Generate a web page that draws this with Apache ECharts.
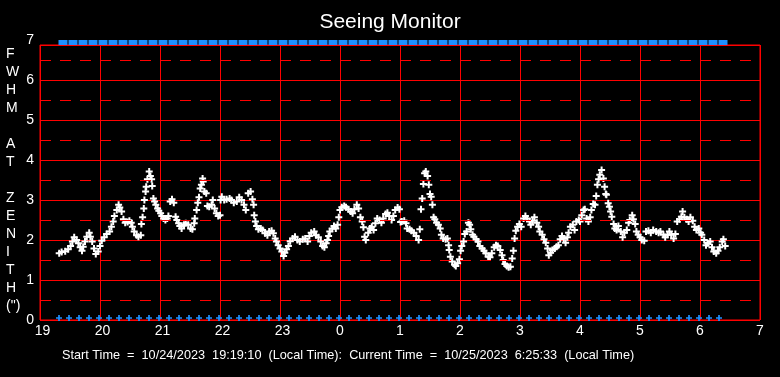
<!DOCTYPE html>
<html>
<head>
<meta charset="utf-8">
<title>Seeing Monitor</title>
<script src="https://cdn.jsdelivr.net/npm/echarts@6/dist/echarts.min.js"></script>
<style>
    html, body { margin: 0; padding: 0; background: #000; }
    #chart { width: 780px; height: 377px; }
</style>
</head>
<body>
<div id="chart"></div>
<script>
// hour axis runs 19 -> 31 (next morning 7:00)
var hourTicks = [19, 20, 21, 22, 23, 24, 25, 26, 27, 28, 29, 30, 31];
var fwhmTicks = [0, 1, 2, 3, 4, 5, 6, 7];
var dashLevels = [0.5, 1.5, 2.5, 3.5, 4.5, 5.5, 6.5];

// seeing samples [hour, FWHM arcsec]
var seeingPoints = [
    [19.32, 1.67], [19.36, 1.70], [19.42, 1.72], [19.47, 1.77], [19.51, 1.85], [19.54, 1.96], [19.57, 2.07],
    [19.61, 2.00], [19.64, 1.92], [19.67, 1.82], [19.70, 1.73], [19.72, 1.83], [19.75, 1.96], [19.78, 2.08],
    [19.82, 2.18], [19.84, 2.08], [19.87, 1.96], [19.90, 1.79], [19.93, 1.65], [19.97, 1.71], [20.00, 1.85],
    [20.03, 1.98], [20.07, 2.07], [20.11, 2.15], [20.16, 2.21], [20.19, 2.33], [20.22, 2.46], [20.24, 2.60],
    [20.28, 2.75], [20.31, 2.88], [20.33, 2.81], [20.36, 2.71], [20.39, 2.52], [20.42, 2.43], [20.46, 2.45],
    [20.49, 2.48], [20.52, 2.43], [20.54, 2.33], [20.57, 2.21], [20.61, 2.12], [20.64, 2.08], [20.68, 2.12],
    [20.69, 2.40], [20.71, 2.57], [20.73, 2.79], [20.74, 3.00], [20.76, 3.21], [20.77, 3.33], [20.79, 3.52],
    [20.82, 3.71], [20.84, 3.60], [20.86, 3.52], [20.87, 3.35], [20.89, 3.04], [20.91, 2.96], [20.93, 2.88],
    [20.96, 2.79], [20.98, 2.73], [21.01, 2.67], [21.03, 2.60], [21.06, 2.54], [21.09, 2.50], [21.12, 2.54],
    [21.14, 2.60], [21.17, 2.96], [21.20, 3.02], [21.23, 2.93], [21.26, 2.58], [21.28, 2.50], [21.31, 2.42],
    [21.33, 2.35], [21.36, 2.29], [21.40, 2.38], [21.43, 2.42], [21.47, 2.38], [21.51, 2.29], [21.54, 2.27],
    [21.57, 2.42], [21.58, 2.54], [21.61, 2.75], [21.63, 2.93], [21.65, 3.07], [21.67, 3.29], [21.69, 3.38],
    [21.71, 3.54], [21.72, 3.46], [21.74, 3.21], [21.77, 3.17], [21.79, 2.85], [21.82, 2.83], [21.86, 2.88],
    [21.88, 3.00], [21.91, 2.79], [21.94, 2.67], [21.97, 2.60], [22.00, 2.62],
    [22.01, 3.00], [22.03, 3.08], [22.07, 3.00], [22.11, 3.02], [22.16, 3.04], [22.19, 3.00], [22.23, 2.93],
    [22.28, 2.96], [22.32, 3.07], [22.36, 3.00], [22.40, 2.88], [22.43, 2.75], [22.47, 3.17], [22.51, 3.21],
    [22.54, 3.02], [22.56, 2.88], [22.57, 2.62], [22.59, 2.46], [22.61, 2.35], [22.64, 2.27], [22.68, 2.29],
    [22.71, 2.25], [22.75, 2.17], [22.79, 2.12], [22.82, 2.21], [22.86, 2.23], [22.89, 2.17], [22.92, 2.04],
    [22.94, 1.96], [22.97, 1.87], [23.00, 1.79], [23.03, 1.71], [23.06, 1.60], [23.08, 1.68], [23.11, 1.77],
    [23.14, 1.85], [23.17, 1.97], [23.21, 2.04], [23.25, 2.08], [23.29, 2.00], [23.33, 1.96], [23.38, 2.02],
    [23.42, 2.04], [23.46, 1.96], [23.49, 2.10], [23.52, 2.18], [23.57, 2.21], [23.60, 2.12], [23.64, 2.07],
    [23.68, 1.96], [23.71, 1.85], [23.74, 1.82], [23.77, 1.92], [23.79, 2.00], [23.81, 2.10], [23.83, 2.21],
    [23.87, 2.29], [23.90, 2.35], [23.93, 2.29], [23.96, 2.38], [23.98, 2.57], [24.00, 2.75], [24.03, 2.82],
    [24.07, 2.85], [24.10, 2.82], [24.14, 2.77], [24.18, 2.71], [24.21, 2.67], [24.24, 2.77], [24.28, 2.88],
    [24.31, 2.79], [24.34, 2.57], [24.37, 2.46], [24.39, 2.32], [24.41, 2.08], [24.43, 2.00], [24.47, 2.18],
    [24.50, 2.29], [24.53, 2.33], [24.56, 2.25], [24.59, 2.42], [24.62, 2.54], [24.66, 2.50], [24.69, 2.43],
    [24.72, 2.54], [24.76, 2.65], [24.79, 2.68], [24.82, 2.60], [24.86, 2.50], [24.89, 2.60], [24.92, 2.75],
    [24.96, 2.81], [24.99, 2.77],
    [25.01, 2.45], [25.03, 2.46], [25.07, 2.48], [25.10, 2.42], [25.12, 2.29], [25.16, 2.27], [25.19, 2.23],
    [25.23, 2.18], [25.27, 2.10], [25.31, 2.00], [25.33, 2.27], [25.35, 2.77], [25.37, 3.04], [25.39, 3.40],
    [25.41, 3.67], [25.43, 3.71], [25.46, 3.60], [25.48, 3.38], [25.50, 3.15], [25.52, 3.08], [25.54, 2.88],
    [25.56, 2.57], [25.58, 2.52], [25.61, 2.43], [25.64, 2.38], [25.67, 2.29], [25.69, 2.13], [25.72, 2.04],
    [25.76, 2.02], [25.79, 2.04], [25.81, 1.87], [25.82, 1.75], [25.84, 1.58], [25.87, 1.46], [25.91, 1.38],
    [25.93, 1.35], [25.96, 1.42], [25.99, 1.52], [26.01, 1.73], [26.03, 1.85], [26.06, 1.96], [26.08, 2.15],
    [26.11, 2.21], [26.14, 2.43], [26.16, 2.38], [26.18, 2.27], [26.21, 2.13], [26.23, 2.08], [26.27, 2.02],
    [26.30, 1.96], [26.33, 1.85], [26.37, 1.79], [26.40, 1.73], [26.43, 1.67], [26.47, 1.58], [26.50, 1.57],
    [26.53, 1.67], [26.57, 1.82], [26.60, 1.87], [26.63, 1.85], [26.67, 1.75], [26.70, 1.62], [26.72, 1.50],
    [26.75, 1.40], [26.78, 1.35], [26.81, 1.32], [26.84, 1.33], [26.87, 1.54], [26.89, 1.73], [26.91, 2.04],
    [26.93, 2.23], [26.96, 2.33], [26.99, 2.40], [27.02, 2.33], [27.06, 2.54], [27.09, 2.60], [27.12, 2.54],
    [27.16, 2.46], [27.18, 2.38], [27.21, 2.48], [27.24, 2.57], [27.28, 2.43], [27.31, 2.33], [27.33, 2.21],
    [27.37, 2.13], [27.40, 2.02], [27.43, 1.93], [27.46, 1.79], [27.48, 1.62], [27.51, 1.68], [27.54, 1.75],
    [27.58, 1.79], [27.61, 1.83], [27.64, 1.87], [27.67, 2.02], [27.70, 2.10], [27.73, 2.04], [27.76, 1.93],
    [27.79, 2.07], [27.81, 2.18], [27.84, 2.33], [27.88, 2.38], [27.91, 2.25], [27.94, 2.46], [27.98, 2.50],
    [28.00, 2.46], [28.03, 2.62], [28.06, 2.75], [28.08, 2.77], [28.11, 2.54], [28.14, 2.46], [28.17, 2.57],
    [28.19, 2.75], [28.22, 2.90], [28.25, 2.88], [28.27, 3.10], [28.29, 3.38], [28.31, 3.52], [28.33, 3.63],
    [28.36, 3.75], [28.39, 3.54], [28.41, 3.33], [28.43, 3.15], [28.44, 3.13], [28.47, 2.92], [28.49, 2.83],
    [28.51, 2.71], [28.53, 2.58], [28.56, 2.40], [28.58, 2.29], [28.61, 2.25], [28.64, 2.35], [28.68, 2.21],
    [28.71, 2.07], [28.74, 2.18], [28.78, 2.25], [28.81, 2.43], [28.83, 2.50], [28.87, 2.62], [28.89, 2.52],
    [28.92, 2.40], [28.94, 2.21], [28.97, 2.13], [29.00, 2.07], [29.03, 2.00], [29.07, 1.98], [29.10, 2.21],
    [29.14, 2.23], [29.18, 2.18], [29.22, 2.25], [29.27, 2.21], [29.31, 2.18], [29.34, 2.21], [29.39, 2.13],
    [29.42, 2.07], [29.46, 2.13], [29.49, 2.21], [29.52, 2.13], [29.56, 2.04], [29.59, 2.15], [29.62, 2.46],
    [29.66, 2.52], [29.69, 2.58], [29.71, 2.71], [29.74, 2.57], [29.78, 2.52], [29.81, 2.46], [29.84, 2.57],
    [29.88, 2.48], [29.91, 2.33], [29.94, 2.25], [29.98, 2.29], [30.01, 2.18], [30.03, 2.13], [30.07, 2.00],
    [30.10, 1.87], [30.13, 1.92], [30.17, 1.96], [30.20, 1.82], [30.23, 1.71], [30.27, 1.67], [30.30, 1.73],
    [30.33, 1.82], [30.37, 1.96], [30.39, 2.02], [30.42, 1.85]
];

// status samples (blue marks), local clock time
var statusTimes = [
    '19:19', '19:29', '19:39', '19:49', '19:59', '20:09', '20:19', '20:29', '20:39', '20:49', '20:59',
    '21:09', '21:19', '21:29', '21:39', '21:49', '21:59', '22:09', '22:19', '22:29', '22:39', '22:49', '22:59',
    '23:09', '23:19', '23:29', '23:39', '23:49', '23:59', '0:09', '0:19', '0:29', '0:39', '0:49', '0:59',
    '1:09', '1:19', '1:29', '1:39', '1:49', '1:59', '2:09', '2:19', '2:29', '2:39', '2:49', '2:59',
    '3:09', '3:19', '3:29', '3:39', '3:49', '3:59', '4:09', '4:19', '4:29', '4:39', '4:49', '4:59',
    '5:09', '5:19', '5:29', '5:39', '5:49', '5:59', '6:09', '6:19'
];
var statusTop = 7;
var statusBottom = 0;

var titleText = 'Seeing Monitor';
// stacked vertical axis title, one letter per row
var yNameRows = ['F', 'W', 'H', 'M', '', 'A', 'T', '', 'Z', 'E', 'N', 'I', 'T', 'H', '(")'];
var footerText = 'Start Time  =  10/24/2023  19:19:10  (Local Time):  Current Time  =  10/25/2023  6:25:33  (Local Time)';

var FONT = "'Liberation Sans', Arial, sans-serif";
var RED = '#ff0000';
var BLUE = '#1e90ff';

function clockToHour(s) {
    var p = s.split(':');
    var h = parseInt(p[0], 10) + parseInt(p[1], 10) / 60;
    return h < 12 ? h + 24 : h;
}

var chart = echarts.init(document.getElementById('chart'), null, { renderer: 'canvas' });

var topMarks = [], bottomMarks = [];
for (var i = 0; i < statusTimes.length; i++) {
    var h = clockToHour(statusTimes[i]);
    topMarks.push([h, statusTop]);
    bottomMarks.push([h, statusBottom]);
}

var option = {
    backgroundColor: '#000',
    animation: false,
    title: {
        text: titleText,
        left: 'center',
        top: 7,
        textStyle: { color: '#fff', fontSize: 21, fontWeight: 'normal', fontFamily: FONT }
    },
    grid: [
        // frame + grid lines (box stops just below 7)
        { left: 40, right: 20, top: 45, bottom: 57, show: true, borderColor: RED, borderWidth: 1, backgroundColor: '#000' },
        // full 0..7 scale for labels and status marks
        { left: 40, right: 20, top: 40, bottom: 57, show: false }
    ],
    xAxis: [
        {
            gridIndex: 0, type: 'value', min: hourTicks[0], max: hourTicks[hourTicks.length - 1], interval: 1,
            axisLine: { show: false }, axisTick: { show: false },
            splitLine: { show: true, lineStyle: { color: RED, width: 1 } },
            axisLabel: {
                color: '#fff', fontSize: 14, fontFamily: FONT, margin: 4,
                formatter: function (v) {
                    var s = String(v % 24);
                    return s.length > 1 ? '{w|' + s + '}' : s;
                },
                rich: { w: { color: '#fff', fontSize: 14, fontFamily: FONT, padding: [0, 0, 0, 5] } }
            }
        },
        { gridIndex: 1, type: 'value', min: 19, max: 31, interval: 1, show: false }
    ],
    yAxis: [
        {
            gridIndex: 0, type: 'value', min: 0, max: 6.875, interval: 1,
            axisLine: { show: false }, axisTick: { show: false }, axisLabel: { show: false },
            splitLine: { show: true, lineStyle: { color: RED, width: 1 } }
        },
        {
            gridIndex: 1, type: 'value', min: fwhmTicks[0], max: fwhmTicks[fwhmTicks.length - 1], interval: 1,
            axisLine: { show: false }, axisTick: { show: false }, splitLine: { show: false },
            axisLabel: { color: '#fff', fontSize: 14, fontFamily: FONT, margin: 6 },
            name: yNameRows.join('\n'),
            nameLocation: 'middle',
            nameRotate: 0,
            nameGap: 33,
            nameTextStyle: { color: '#fff', fontSize: 14, fontFamily: FONT, align: 'left', lineHeight: 18 }
        }
    ],
    series: [
        {
            // carries the dashed half-step grid lines, kept under the points
            name: 'halfSteps',
            type: 'line',
            xAxisIndex: 0, yAxisIndex: 0,
            data: [],
            z: 1,
            markLine: {
                silent: true,
                symbol: ['none', 'none'],
                label: { show: false },
                lineStyle: { color: RED, width: 1, type: [11, 9], opacity: 1 },
                data: dashLevels.map(function (v) { return { yAxis: v }; })
            }
        },
        {
            name: 'seeing',
            type: 'scatter',
            xAxisIndex: 0, yAxisIndex: 0,
            symbol: 'path://M2.5,0H4.5V2.5H7V4.5H4.5V7H2.5V4.5H0V2.5H2.5Z',
            symbolSize: 7,
            itemStyle: { color: '#fff', opacity: 1 },
            data: seeingPoints,
            z: 3
        },
        {
            name: 'top',
            type: 'scatter',
            xAxisIndex: 1, yAxisIndex: 1,
            symbol: 'rect',
            symbolSize: [9, 5],
            symbolOffset: [4, 2.5],
            itemStyle: { color: BLUE, opacity: 1 },
            data: topMarks,
            clip: false
        },
        {
            name: 'bottom',
            type: 'scatter',
            xAxisIndex: 1, yAxisIndex: 1,
            symbol: 'path://M2,0H3.6V2H5.6V3.6H3.6V5.6H2V3.6H0V2H2Z',
            symbolSize: 6,
            symbolOffset: [0, -2],
            itemStyle: { color: BLUE, opacity: 1 },
            data: bottomMarks,
            clip: false
        }
    ],
    graphic: [
        {
            type: 'text',
            left: 62,
            top: 349,
            style: { text: footerText, fill: '#fff', font: '12.7px ' + FONT }
        }
    ]
};

chart.setOption(option);
</script>
</body>
</html>
